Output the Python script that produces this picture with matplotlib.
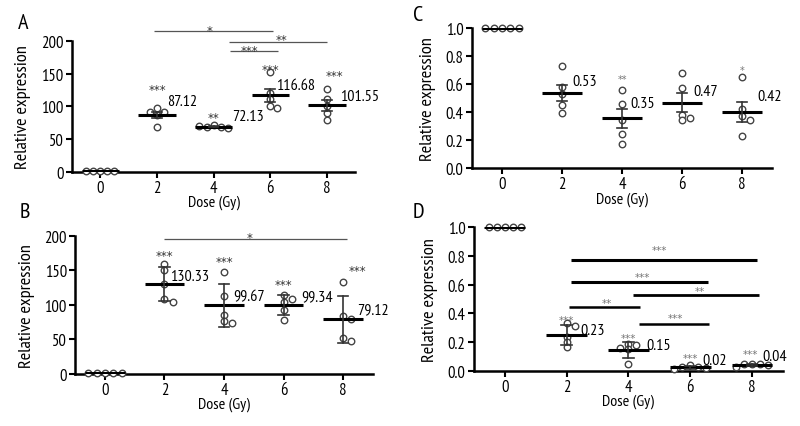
import numpy as np
import matplotlib
matplotlib.use("Agg")
import matplotlib.pyplot as plt
from matplotlib import font_manager
from matplotlib.transforms import offset_copy

# ---- data ------------------------------------------------------------------
doses = [0, 2, 4, 6, 8]

a_values = [[1.0, 1.0, 1.0, 1.0, 1.0],
            [97, 92, 91, 87, 68.6],
            [71, 69, 68, 67, 69.5],
            [153, 121, 112, 100, 97.4],
            [126, 112, 100, 90, 79.75]]
a_labels = ["", "87.12", "72.13", "116.68", "101.55"]
a_stars = ["", "***", "**", "***", "***"]

b_values = [[1.0, 1.0, 1.0, 1.0, 1.0],
            [160, 150, 130, 108, 103.65],
            [148, 113, 86, 77, 74.35],
            [114, 109, 104, 92, 77.7],
            [133, 84, 79.6, 52, 47]]
b_labels = ["", "130.33", "99.67", "99.34", "79.12"]
b_stars = ["", "***", "***", "***", "***"]

c_values = [[1.0, 1.0, 1.0, 1.0, 1.0],
            [0.73, 0.58, 0.53, 0.45, 0.39],
            [0.56, 0.46, 0.34, 0.24, 0.175],
            [0.68, 0.57, 0.38, 0.36, 0.34],
            [0.65, 0.42, 0.37, 0.34, 0.23]]
c_labels = ["", "0.53", "0.35", "0.47", "0.42"]
c_stars = ["", "", "**", "", "*"]

d_values = [[1.0, 1.0, 1.0, 1.0, 1.0],
            [0.33, 0.31, 0.235, 0.2, 0.165],
            [0.185, 0.18, 0.16, 0.15, 0.05],
            [0.04, 0.03, 0.025, 0.02, 0.015],
            [0.05, 0.05, 0.045, 0.04, 0.03]]
d_labels = ["", "0.23", "0.15", "0.02", "0.04"]
d_stars = ["", "***", "***", "***", "***"]

# ---- fonts -----------------------------------------------------------------
names = {f.name for f in font_manager.fontManager.ttflist}
if "PT Sans Narrow" in names:
    plt.rcParams["font.family"] = ["PT Sans Narrow", "DejaVu Sans"]
    k = 1.0
else:
    plt.rcParams["font.family"] = ["DejaVu Sans"]
    k = 0.8
STAR_FONT = ["DejaVu Sans"]


def swarm(ax, x0, vals, step, diam_px=4.5):
    """place points side by side when they would overlap (pixel space)"""
    placed = []
    xs = []
    cands = [0]
    for i in range(1, 6):
        cands += [i, -i]
    for v in vals:
        for c in cands:
            p = ax.transData.transform((x0 + c * step, v))
            if all(np.hypot(*(p - q)) >= diam_px for q in placed):
                placed.append(p)
                xs.append(x0 + c * step)
                break
    return xs


def panel(ax, values, err, ylim, yticks, yfmt, step):
    ax.set_xlim(-1, 9)
    ax.set_ylim(*ylim)
    ax.spines[["top", "right"]].set_visible(False)
    for s in ("left", "bottom"):
        ax.spines[s].set_linewidth(1.8)
    ax.set_xticks(doses)
    ax.set_yticks(yticks)
    ax.set_yticklabels([yfmt.format(t) for t in yticks])
    ax.tick_params(length=4, width=1.5, labelsize=12 * k, pad=2)
    ax.set_xlabel("Dose (Gy)", fontsize=11.5 * k, labelpad=-1)
    ax.set_ylabel("Relative expression", fontsize=13.2 * k, labelpad=7)
    for d, vals in zip(doses, values):
        vals = np.array(vals, dtype=float)
        m = vals.mean()
        e = vals.std(ddof=1)
        if err == "sem":
            e = e / np.sqrt(len(vals))
        xs = swarm(ax, d, vals, step)
        ax.scatter(xs, vals, s=22, facecolor="white", edgecolor="#444444",
                   linewidth=1.0, zorder=3, clip_on=False)
        ax.plot([d - 0.66, d + 0.66], [m, m], color="black", lw=2.2, zorder=4,
                solid_capstyle="butt")
        if e > 0:
            ax.plot([d, d], [m - e, m + e], color="#333333", lw=1.2, zorder=4)
            for yy in (m - e, m + e):
                ax.plot([d - 0.17, d + 0.17], [yy, yy], color="#333333",
                        lw=1.2, zorder=4)


def star_text(ax, x, y, txt, size, color):
    tr = offset_copy(ax.transData, fig=ax.figure, y=-3, units="dots")
    ax.text(x, y, txt, fontsize=size, color=color, family=STAR_FONT,
            ha="center", va="center", clip_on=False, transform=tr)


def annotate(ax, labels, label_pos, stars, star_pos, star_size, star_color,
             fs=11.5):
    for lab, (x, y) in zip(labels, label_pos):
        if lab:
            ax.text(x, y, lab, fontsize=fs * k, ha="left", va="center",
                    clip_on=False)
    for st, (x, y) in zip(stars, star_pos):
        if st:
            star_text(ax, x, y, st, star_size, star_color)


def bracket(ax, x1, x2, y, txt, tx, ty, lw, color, fs, tcolor=None):
    ax.plot([x1, x2], [y, y], color=color, lw=lw, clip_on=False,
            solid_capstyle="butt")
    star_text(ax, tx, ty, txt, fs, tcolor or color)


fig = plt.figure(figsize=(8, 4.27), dpi=100)

# ---- A ---------------------------------------------------------------------
axA = fig.add_axes([0.090, 0.595, 0.354, 0.307])
panel(axA, a_values, "sem", (0, 200), [0, 50, 100, 150, 200], "{:g}", 0.25)
annotate(axA, a_labels,
         [(0, 0), (2.35, 108), (4.65, 86), (6.2, 133), (8.45, 116)],
         a_stars, [(0, 0), (2.0, 131), (4.0, 87), (6.0, 161), (8.25, 152)],
         8.5, "#333333")
bracket(axA, 1.91, 6.09, 215, "*", 3.86, 221, 0.9, "#555555", 8.5, "#333333")
bracket(axA, 4.53, 8.0, 198.5, "**", 6.4, 206, 0.9, "#555555", 8.5, "#333333")
bracket(axA, 4.57, 6.26, 184.5, "***", 5.25, 190, 0.9, "#555555", 8.5,
        "#333333")
fig.text(0.029, 0.945, "A", fontsize=16 * k, ha="center", va="center")

# ---- B ---------------------------------------------------------------------
axB = fig.add_axes([0.094, 0.122, 0.372, 0.323])
panel(axB, b_values, "sd", (0, 200), [0, 50, 100, 150, 200], "{:g}", 0.28)
annotate(axB, b_labels,
         [(0, 0), (2.2, 142), (4.3, 112), (6.6, 112), (8.48, 94)],
         b_stars, [(0, 0), (2.0, 176), (4.0, 168), (6.0, 134), (8.5, 154)],
         8.5, "#333333")
bracket(axB, 2.0, 8.14, 195.5, "*", 4.86, 202, 0.9, "#555555", 8.5, "#333333")
fig.text(0.031, 0.503, "B", fontsize=16 * k, ha="center", va="center")

# ---- C ---------------------------------------------------------------------
axC = fig.add_axes([0.590, 0.604, 0.375, 0.328])
panel(axC, c_values, "sem", (0, 1.0), [0, 0.2, 0.4, 0.6, 0.8, 1.0],
      "{:.1f}", 0.28)
annotate(axC, c_labels,
         [(0, 0), (2.33, 0.62), (4.27, 0.465), (6.39, 0.552), (8.5, 0.517)],
         c_stars, [(0, 0), (0, 0), (4.0, 0.66), (0, 0), (8.0, 0.72)],
         7, "#777777")
fig.text(0.523, 0.963, "C", fontsize=16 * k, ha="center", va="center")

# ---- D ---------------------------------------------------------------------
axD = fig.add_axes([0.5925, 0.129, 0.386, 0.337])
panel(axD, d_values, "sd", (0, 1.0), [0, 0.2, 0.4, 0.6, 0.8, 1.0],
      "{:.1f}", 0.26)
annotate(axD, d_labels,
         [(0, 0), (2.45, 0.285), (4.58, 0.183), (6.38, 0.079), (8.35, 0.102)],
         d_stars, [(0, 0), (2.0, 0.373), (4.0, 0.248), (6.0, 0.113),
                   (7.95, 0.141)],
         7.5, "#777777")
bracket(axD, 2.13, 8.16, 0.771, "***", 5.0, 0.86, 2.2, "black", 7.5, "#777777")
bracket(axD, 2.13, 6.58, 0.618, "***", 4.47, 0.674, 2.2, "black", 7.5,
        "#777777")
bracket(axD, 4.15, 8.23, 0.53, "**", 6.32, 0.576, 2.0, "black", 7.5, "#777777")
bracket(axD, 2.07, 4.37, 0.442, "**", 3.31, 0.493, 1.8, "black", 7.5,
        "#777777")
bracket(axD, 4.33, 6.61, 0.329, "***", 5.52, 0.389, 1.8, "black", 7.5,
        "#777777")
fig.text(0.523, 0.503, "D", fontsize=16 * k, ha="center", va="center")

fig.savefig("out.png", dpi=100)
